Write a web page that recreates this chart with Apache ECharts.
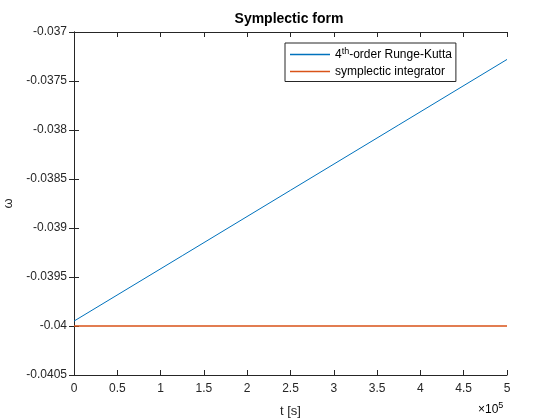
<!DOCTYPE html>
<html><head><meta charset="utf-8">
<script src="https://cdn.jsdelivr.net/npm/echarts@6/dist/echarts.min.js"></script>
<style>html,body{margin:0;padding:0;background:#fff}#c{width:560px;height:420px}</style>
</head><body><div id="c"></div>
<script>
var rkT = [0, 125000, 250000, 375000, 500000];
var rkOmega = [-0.03995, -0.039283, -0.038615, -0.037948, -0.03728];
var symT = [0, 125000, 250000, 375000, 500000];
var symOmega = [-0.04, -0.04, -0.04, -0.04, -0.04];
var xTicks = [0, 0.5, 1, 1.5, 2, 2.5, 3, 3.5, 4, 4.5, 5];
var yTicks = [-0.0405, -0.04, -0.0395, -0.039, -0.0385, -0.038, -0.0375, -0.037];

var chart = echarts.init(document.getElementById('c'));
var font = 'Liberation Sans, Arial, Helvetica, sans-serif';
var lab = {color:'#262626', fontSize:12, fontFamily:font};
function zip(a,b){return a.map(function(v,i){return [v,b[i]];});}
var axLine = {show:true, lineStyle:{color:'#262626', width:1}};
var tick = {show:true, inside:true, length:5, lineStyle:{color:'#262626', width:1}};
chart.setOption({
  animation:false,
  backgroundColor:'#fff',
  grid:{left:74, right:53, top:32, bottom:45, containLabel:false, outerBoundsMode:'none'},
  graphic:[
    {type:'text', x:289, y:12, style:{text:'Symplectic form', font:'bold 14px '+font, fill:'#000', textAlign:'center'}},
    {type:'text', x:478, y:401, style:{rich:{a:{fontSize:12, fontFamily:font, color:'#262626'}, s:{fontSize:9, fontFamily:font, color:'#262626', verticalAlign:'top', padding:[0,0,8,0]}}, text:'{a|×10}{s|5}'}}
  ],
  legend:{
    orient:'vertical', left:285, top:43, padding:[4,4,4,5],
    borderColor:'#262626', borderWidth:1, backgroundColor:'#fff',
    itemWidth:40, itemHeight:1.5, itemGap:5, icon:'rect',
    data:['rk','sym'],
    formatter:function(n){return n==='rk' ? '{n|4}{s|th}{n|-order Runge-Kutta}' : '{n|symplectic integrator}';},
    textStyle:{rich:{n:{fontSize:12, fontFamily:font, color:'#000'}, s:{fontSize:9, fontFamily:font, color:'#000', verticalAlign:'top', padding:[0,0,6,0]}}, padding:[0,0,0,0]}
  },
  xAxis:[
    {type:'value', min:0, max:500000, interval:50000, position:'bottom',
     name:'t [s]', nameLocation:'middle', nameGap:30, nameTextStyle:{color:'#262626', fontSize:13, fontFamily:font},
     axisLine:axLine, axisTick:tick, splitLine:{show:false},
     axisLabel:Object.assign({margin:8, formatter:function(v){return String(xTicks[Math.round(v/50000)]);}}, lab)},
    {type:'value', min:0, max:500000, interval:50000, position:'top',
     axisLine:axLine, axisTick:tick, axisLabel:{show:false}, splitLine:{show:false}}
  ],
  yAxis:[
    {type:'value', min:-0.0405, max:-0.037, interval:0.0005, position:'left',
     name:'ω', nameLocation:'middle', nameGap:56, nameRotate:90, nameTextStyle:{color:'#262626', fontSize:13, fontFamily:font},
     axisLine:axLine, axisTick:tick, splitLine:{show:false},
     axisLabel:Object.assign({margin:7, formatter:function(v){var i=Math.round((v+0.0405)/0.0005); return String(yTicks[i]);}}, lab)},
    {type:'value', min:-0.0405, max:-0.037, interval:0.0005, position:'right',
     axisLine:axLine, axisTick:tick, axisLabel:{show:false}, splitLine:{show:false}}
  ],
  series:[
    {name:'rk', type:'line', data:zip(rkT, rkOmega), showSymbol:false, symbol:'none',
     lineStyle:{color:'#0072BD', width:1}, itemStyle:{color:'#0072BD'}},
    {name:'sym', type:'line', data:zip(symT, symOmega), showSymbol:false, symbol:'none',
     lineStyle:{color:'#D95319', width:1.5}, itemStyle:{color:'#D95319'}}
  ]
});
</script></body></html>
